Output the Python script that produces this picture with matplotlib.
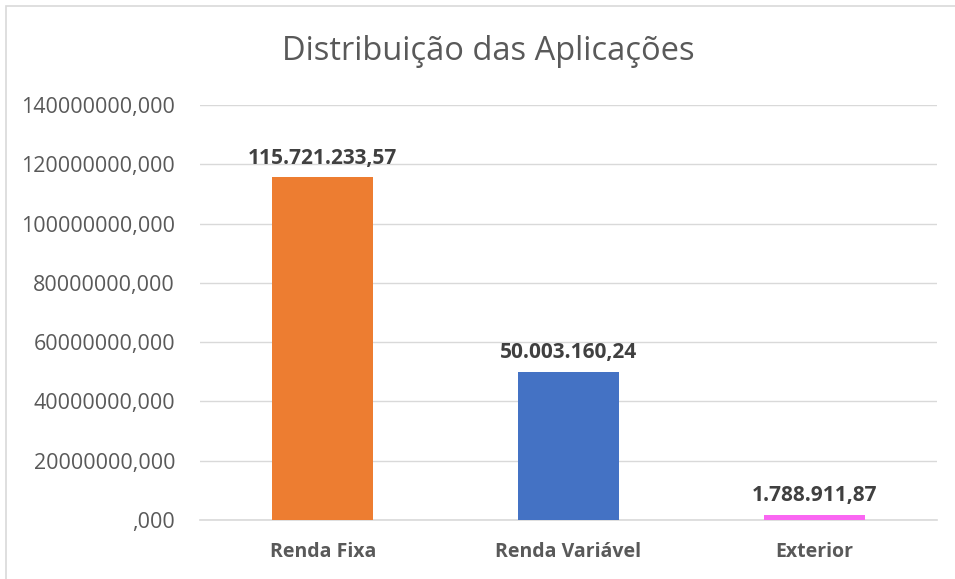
import matplotlib
matplotlib.use("Agg")
import matplotlib.pyplot as plt
from matplotlib.patches import Rectangle
from matplotlib.ticker import FuncFormatter

categories = ["Renda Fixa", "Renda Variável", "Exterior"]
values = [115721233.57, 50003160.24, 1788911.87]
value_labels = ["115.721.233,57", "50.003.160,24", "1.788.911,87"]
colors = ["#ED7D31", "#4472C4", "#FA66F2"]
yticks = [0, 20000000, 40000000, 60000000, 80000000, 100000000, 120000000, 140000000]
title = "Distribuição das Aplicações"

plt.rcParams['font.family'] = ['Open Sans', 'DejaVu Sans']

W, H = 955, 579
fig = plt.figure(figsize=(W/100, H/100), dpi=100)
ax = fig.add_axes([200/W, 1 - 520/H, 737/W, (520-105)/H])

x = list(range(len(categories)))
ax.bar(x, values, width=0.41, color=colors, zorder=3)
ax.set_xlim(-0.5, len(categories) - 0.5)
ax.set_ylim(0, 140000000)
ax.set_yticks(yticks)
ax.yaxis.set_major_formatter(FuncFormatter(lambda v, p: ",000" if v == 0 else f"{int(v)},000"))
ax.set_xticks(x)
ax.set_xticklabels(categories, fontsize=14, fontweight='bold', color='#595959')
ax.tick_params(axis='y', labelsize=15.5, colors='#595959', length=0, pad=18)
ax.tick_params(axis='x', length=0, pad=16)
ax.grid(axis='y', color='#D9D9D9', linewidth=1, zorder=0)
for s in ['top', 'right', 'left']:
    ax.spines[s].set_visible(False)
ax.spines['bottom'].set_color('#D9D9D9')
ax.spines['bottom'].set_linewidth(1.2)

for xi, v, lab in zip(x, values, value_labels):
    ax.annotate(lab, (xi, v), xytext=(0, 6), textcoords='offset points',
                ha='center', va='bottom', fontsize=15, fontweight='bold', color='#404040')

fig.text(488/W, 1 - 52/H, title, ha='center', va='center',
         fontsize=23.5, color='#595959')

fig.add_artist(Rectangle((6/W, -0.1), 1.2, 1 - 6/H + 0.1, transform=fig.transFigure,
                         fill=False, edgecolor='#D9D9D9', linewidth=1.2))

fig.savefig("out.png", dpi=100, facecolor='white')
